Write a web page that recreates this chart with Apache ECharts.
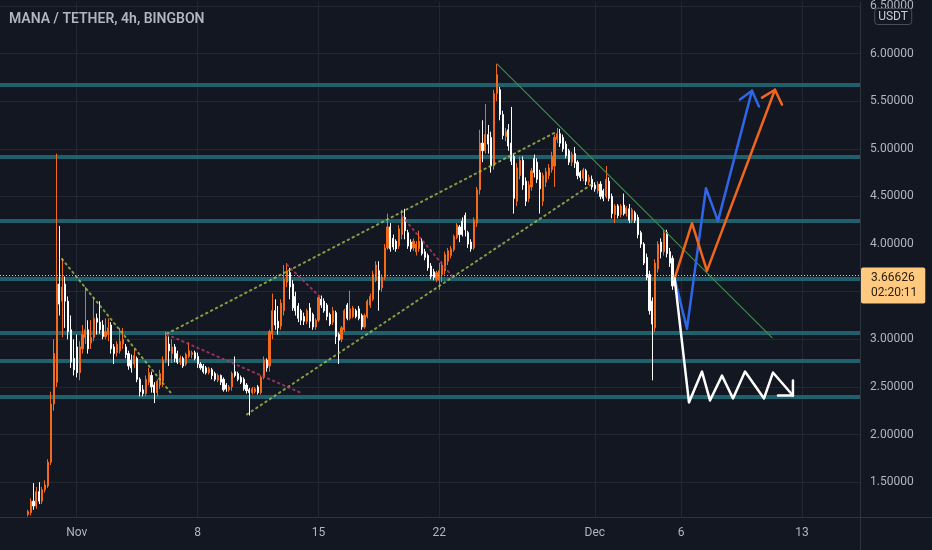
<!DOCTYPE html>
<html><head><meta charset="utf-8">
<script src="https://cdn.jsdelivr.net/npm/echarts@6/dist/echarts.min.js"></script>
<style>html,body{margin:0;padding:0;background:#131722}#c{width:932px;height:550px}</style>
</head><body><div id="c"></div>
<script>
// ---------- data ----------
const title = 'MANA / TETHER, 4h, BINGBON';
const currency = 'USDT';
const firstBar = '2021-10-29 04:00';   // time of first visible 4h candle
const barHours = 4;
// [open, close, low, high]
const ohlc = [
 [1.16,1.19,1.14,1.21],[1.18,1.30,1.15,1.33],[1.30,1.25,1.21,1.49],[1.25,1.40,1.22,1.45],[1.40,1.30,1.27,1.50],[1.30,1.42,1.27,1.45],
 [1.42,1.47,1.39,1.52],[1.46,1.71,1.44,1.74],[1.71,2.32,1.68,2.45],[2.32,2.85,2.25,3.00],[2.55,3.58,2.50,4.95],[3.58,3.37,3.25,4.19],
 [3.40,3.55,3.02,3.85],[3.58,3.40,3.12,3.66],[3.40,3.08,3.00,3.45],[3.10,2.76,2.70,3.25],[2.80,2.68,2.62,3.00],[2.92,2.65,2.60,3.05],
 [2.65,2.92,2.57,2.98],[2.90,3.05,2.85,3.15],[3.02,3.10,2.95,3.55],[3.10,2.90,2.85,3.20],[2.96,3.02,2.90,3.20],[3.02,3.22,2.98,3.44],
 [3.22,3.18,3.05,3.27],[3.18,3.10,3.06,3.40],[3.15,3.03,3.00,3.20],[3.03,3.08,3.00,3.22],[3.05,3.12,2.98,3.22],[3.15,2.90,2.85,3.18],
 [2.92,2.85,2.74,2.95],[2.86,2.95,2.82,2.98],[2.88,2.98,2.85,3.12],[2.95,3.00,2.90,3.12],[2.92,2.84,2.80,2.95],[2.85,2.72,2.68,2.88],
 [2.78,2.70,2.65,2.84],[2.74,2.83,2.70,2.90],[2.80,2.58,2.55,2.82],[2.58,2.45,2.40,2.60],[2.47,2.43,2.40,2.52],[2.43,2.58,2.40,2.62],
 [2.55,2.65,2.52,2.70],[2.62,2.50,2.44,2.66],[2.52,2.44,2.33,2.55],[2.44,2.56,2.40,2.58],[2.52,2.64,2.48,2.68],[2.56,2.78,2.50,2.82],
 [2.78,3.03,2.75,3.08],[2.95,2.88,2.72,3.03],[2.85,2.92,2.75,3.00],[2.92,2.80,2.76,2.95],[2.85,2.76,2.74,2.88],[2.76,2.80,2.73,2.83],
 [2.80,2.72,2.70,2.82],[2.74,2.84,2.72,2.86],[2.82,2.88,2.80,2.97],[2.84,2.86,2.80,2.88],[2.86,2.80,2.78,2.88],[2.82,2.74,2.70,2.86],
 [2.74,2.70,2.68,2.76],[2.72,2.66,2.64,2.74],[2.70,2.65,2.63,2.72],[2.65,2.69,2.63,2.71],[2.68,2.62,2.58,2.70],[2.64,2.58,2.56,2.66],
 [2.57,2.62,2.55,2.64],[2.62,2.55,2.52,2.63],[2.58,2.47,2.45,2.60],[2.52,2.48,2.45,2.54],[2.47,2.50,2.45,2.52],[2.50,2.64,2.46,2.66],
 [2.66,2.62,2.60,2.82],[2.64,2.58,2.56,2.66],[2.60,2.55,2.53,2.62],[2.58,2.48,2.46,2.60],[2.52,2.46,2.43,2.54],[2.47,2.44,2.20,2.49],
 [2.44,2.48,2.42,2.50],[2.45,2.48,2.43,2.50],[2.50,2.44,2.42,2.52],[2.44,2.60,2.42,2.62],[2.60,2.78,2.58,2.82],[2.78,2.70,2.66,2.80],
 [2.72,3.08,2.66,3.10],[3.06,3.30,3.00,3.48],[3.30,3.15,3.10,3.42],[3.19,3.12,3.05,3.35],[3.14,3.38,3.10,3.42],[3.30,3.63,3.25,3.78],
 [3.60,3.72,3.55,3.80],[3.70,3.55,3.42,3.75],[3.58,3.33,3.30,3.62],[3.45,3.30,3.25,3.50],[3.35,3.22,3.18,3.38],[3.30,3.20,3.15,3.32],
 [3.24,3.19,3.15,3.28],[3.19,3.30,3.16,3.32],[3.33,3.19,3.12,3.38],[3.26,3.13,3.10,3.28],[3.13,3.20,3.10,3.22],[3.20,3.44,3.18,3.46],
 [3.42,3.36,3.33,3.46],[3.40,3.30,3.28,3.43],[3.36,3.24,3.20,3.38],[3.26,3.16,3.14,3.28],[3.18,3.30,3.15,3.34],[3.28,3.03,2.95,3.30],
 [3.05,2.99,2.74,3.07],[3.00,3.12,2.97,3.14],[3.10,3.30,3.08,3.32],[3.36,3.22,3.20,3.38],[3.22,3.32,3.20,3.51],[3.24,3.33,3.22,3.35],
 [3.30,3.24,3.22,3.32],[3.32,3.22,3.20,3.35],[3.25,3.13,3.10,3.27],[3.13,3.25,3.11,3.27],[3.24,3.40,3.22,3.42],[3.36,3.45,3.33,3.48],
 [3.42,3.68,3.40,3.72],[3.62,3.78,3.60,3.82],[3.72,3.52,3.30,3.82],[3.54,3.65,3.50,3.68],[3.65,3.96,3.62,4.00],[3.96,4.18,3.94,4.32],
 [4.18,3.95,3.92,4.22],[4.06,3.97,3.94,4.10],[4.03,3.95,3.92,4.05],[3.98,4.16,3.95,4.20],[4.10,4.28,4.05,4.36],[4.28,4.14,4.05,4.37],
 [4.12,3.98,3.95,4.15],[4.02,3.95,3.92,4.05],[3.96,4.03,3.93,4.06],[3.92,4.00,3.88,4.03],[3.95,4.03,3.92,4.14],[4.03,3.90,3.88,4.06],
 [3.92,3.86,3.83,3.95],[3.88,3.75,3.72,3.90],[3.77,3.66,3.63,3.80],[3.71,3.65,3.62,3.74],[3.63,3.70,3.60,3.72],[3.62,3.72,3.52,3.80],
 [3.68,3.78,3.60,3.82],[3.72,3.89,3.68,3.92],[3.82,3.93,3.78,3.96],[3.88,3.95,3.85,3.98],[3.94,4.08,3.92,4.10],[4.07,4.20,4.05,4.22],
 [4.18,4.10,4.02,4.20],[4.24,4.10,4.08,4.28],[4.30,4.15,4.08,4.33],[4.12,4.00,3.96,4.14],[4.02,3.95,3.92,4.05],[3.96,4.25,3.94,4.28],
 [4.22,4.57,4.18,4.60],[4.57,5.06,4.52,5.20],[5.06,4.98,4.86,5.30],[4.98,5.15,4.95,5.47],[5.15,5.05,4.95,5.25],[5.12,4.82,4.75,5.18],
 [4.82,5.58,4.78,5.62],[5.58,5.78,5.50,5.89],[5.62,5.36,5.30,5.65],[5.36,5.14,5.10,5.40],[5.13,5.18,5.08,5.22],[5.20,5.03,4.98,5.26],
 [5.06,4.87,4.83,5.44],[4.92,4.48,4.32,4.95],[4.45,4.80,4.40,4.85],[4.72,4.88,4.68,4.92],[4.88,4.62,4.57,4.92],[4.66,4.45,4.40,4.70],
 [4.48,4.62,4.44,4.66],[4.60,4.77,4.56,4.80],[4.90,4.75,4.70,4.94],[4.86,4.68,4.64,4.90],[4.75,4.58,4.32,4.78],[4.45,4.72,4.40,4.75],
 [4.65,4.76,4.60,4.80],[4.72,4.80,4.68,4.84],[4.78,4.92,4.75,4.97],[4.82,5.12,4.60,5.15],[5.10,5.16,5.06,5.22],[5.16,5.06,5.02,5.21],
 [5.12,5.00,4.97,5.15],[5.05,4.93,4.90,5.08],[4.98,4.86,4.83,5.00],[4.86,4.94,4.82,4.97],[4.95,4.85,4.80,5.02],[4.86,4.72,4.68,4.88],
 [4.75,4.70,4.66,4.77],[4.69,4.78,4.66,4.80],[4.77,4.66,4.62,4.79],[4.65,4.70,4.62,4.73],[4.68,4.60,4.57,4.72],[4.62,4.58,4.55,4.65],
 [4.56,4.63,4.53,4.66],[4.63,4.50,4.47,4.66],[4.56,4.48,4.45,4.58],[4.50,4.68,4.48,4.82],[4.66,4.48,4.45,4.70],[4.50,4.32,4.27,4.53],
 [4.31,4.40,4.22,4.42],[4.40,4.30,4.27,4.42],[4.31,4.40,4.28,4.42],[4.41,4.32,4.30,4.53],[4.32,4.38,4.29,4.40],[4.37,4.25,4.22,4.42],
 [4.25,4.36,4.22,4.38],[4.33,4.25,4.22,4.35],[4.28,4.10,4.06,4.31],[4.12,4.00,3.96,4.14],[4.00,3.80,3.78,4.02],[3.86,3.65,3.62,3.90],
 [3.68,3.30,3.26,3.72],[3.40,3.16,2.57,3.44],[3.12,3.80,3.08,3.84],[3.74,4.00,3.70,4.03],[4.02,3.92,3.85,4.06],[3.92,4.12,3.88,4.16],
 [4.12,3.90,3.86,4.15],[3.92,3.80,3.76,3.96],[3.85,3.56,3.52,3.88],[3.55,3.66626,3.52,3.70]
];
const levels = [5.674, 4.920, 4.240, 3.644, 3.069, 2.776, 2.400];   // horizontal support/resistance
const lastPrice = 3.66626;
const countdown = '02:20:11';
const yGridValues = [1.5, 2, 2.5, 3, 3.5, 4, 4.5, 5, 5.5, 6, 6.5];
const yLabelValues = [1.5, 2, 2.5, 3, 4, 4.5, 5, 5.5, 6, 6.5];
const yRange = [1.134, 6.542];
const xRange = ['2021-10-27 13:24', '2021-12-16 08:36'];
const xTickDates = ['2021-11-01', '2021-11-08', '2021-11-15', '2021-11-22', '2021-12-01', '2021-12-06', '2021-12-13'];
const xTickText = ['Nov', '8', '15', '22', 'Dec', '6', '13'];
// drawings: [time, price]
const trendLine = [['2021-11-25 08:06', 5.893], ['2021-12-11 06:18', 3.017]];
const channelUpper = [['2021-11-06 05:30', 3.059], ['2021-11-28 19:30', 5.182]];
const channelLower = [['2021-11-10 20:42', 2.212], ['2021-11-30 20:06', 4.630]];
const leftFall = [['2021-10-31 03:36', 3.843], ['2021-11-06 13:48', 2.410]];
const pinkA = [['2021-11-06 05:30', 3.050], ['2021-11-13 22:18', 2.442]];
const pinkB = [['2021-11-13 04:18', 3.782], ['2021-11-15 04:54', 3.425]];
const pinkC = [['2021-11-19 20:06', 4.293], ['2021-11-22 17:36', 3.665]];
const bluePath = [['2021-12-05 15:00', 3.64], ['2021-12-06 08:06', 3.111], ['2021-12-07 10:34', 4.586], ['2021-12-08 03:12', 4.241], ['2021-12-10 02:30', 5.611]];
const blueHead = [['2021-12-09 09:48', 5.517], ['2021-12-10 02:30', 5.611], ['2021-12-10 12:12', 5.444]];
const orangePath = [['2021-12-05 15:00', 3.64], ['2021-12-06 15:06', 4.220], ['2021-12-07 11:54', 3.718], ['2021-12-11 10:24', 5.621]];
const orangeHead = [['2021-12-10 16:24', 5.538], ['2021-12-11 10:24', 5.621], ['2021-12-11 20:12', 5.464]];
const whitePath = [['2021-12-05 15:00', 3.64], ['2021-12-06 10:54', 2.337], ['2021-12-07 05:00', 2.661], ['2021-12-07 16:06', 2.358],
  ['2021-12-08 08:48', 2.619], ['2021-12-09 00:06', 2.379], ['2021-12-09 16:48', 2.661], ['2021-12-10 19:12', 2.379],
  ['2021-12-11 07:36', 2.651], ['2021-12-12 11:24', 2.410]];
const whiteHead = [['2021-12-11 14:36', 2.410], ['2021-12-12 11:24', 2.410], ['2021-12-12 11:24', 2.567]];

// ---------- helpers ----------
function ts(s) {
  const [d, t = '00:00'] = s.split(' ');
  const [Y, M, D] = d.split('-').map(Number);
  const [h, m] = t.split(':').map(Number);
  return Date.UTC(Y, M - 1, D, h, m);
}
const t0 = ts(firstBar);
const candles = ohlc.map((r, k) => [t0 + k * barHours * 3600e3, r[0], r[1], r[2], r[3]]);
const pts = arr => arr.map(p => [ts(p[0]), p[1]]);
const xTickTs = xTickDates.map(d => ts(d));

const UP = '#f26b1d', DOWN = '#ffffff', TEAL = '#1f6471', GRID = '#232733', TXT = '#b2b5be', SEP = '#2f333e';
const FONT = 'Roboto, "Open Sans", sans-serif';
const W = 932, H = 550, GRID_RIGHT = 72, GRID_BOTTOM = 33;

function drawing(name, data, color, width, type, z) {
  return { name, type: 'line', data: pts(data), symbol: 'none', silent: true, z: z || 4,
    lineStyle: { color, width, type: type || 'solid', cap: 'round', join: 'round' }, animation: false };
}

const chart = echarts.init(document.getElementById('c'), null, { renderer: 'canvas' });
chart.setOption({
  backgroundColor: '#131722',
  animation: false,
  title: [
    { text: title, left: 9, top: 12, padding: 0,
      textStyle: { color: TXT, fontSize: 14, fontWeight: 600, fontFamily: FONT } },
    { text: currency, right: 20, top: 8, padding: [3, 4, 2, 4], borderColor: '#4a4e59', borderWidth: 1, borderRadius: 3,
      backgroundColor: '#131722', textStyle: { color: '#c9ccd4', fontSize: 12, fontWeight: 'normal', fontFamily: FONT } }
  ],
  graphic: [
    { type: 'line', silent: true, z: 10, shape: { x1: W - GRID_RIGHT + 0.5, y1: H - GRID_BOTTOM, x2: W - GRID_RIGHT + 0.5, y2: H },
      style: { stroke: SEP, lineWidth: 1 } },
    { type: 'line', silent: true, z: 10, shape: { x1: W - GRID_RIGHT, y1: H - GRID_BOTTOM + 0.5, x2: W, y2: H - GRID_BOTTOM + 0.5 },
      style: { stroke: SEP, lineWidth: 1 } }
  ],
  grid: { left: 0, right: GRID_RIGHT, top: 0, bottom: GRID_BOTTOM, containLabel: false },
  xAxis: {
    type: 'value', min: ts(xRange[0]), max: ts(xRange[1]), scale: true,
    axisLine: { show: true, lineStyle: { color: SEP, width: 1 } },
    axisTick: { show: false },
    splitLine: { show: false },
    axisLabel: {
      customValues: xTickTs, margin: 10, color: TXT, fontSize: 12, fontFamily: FONT,
      formatter: v => { const i = xTickTs.indexOf(v); return i >= 0 ? xTickText[i] : ''; }
    }
  },
  yAxis: {
    type: 'value', position: 'right', min: yRange[0], max: yRange[1], splitNumber: 11,
    axisLine: { show: true, lineStyle: { color: SEP, width: 1 } },
    axisTick: { show: false },
    splitLine: { show: false },
    axisLabel: {
      customValues: yLabelValues, showMinLabel: true, showMaxLabel: true,
      margin: 10, color: TXT, fontSize: 12, fontFamily: FONT,
      formatter: v => yLabelValues.some(l => Math.abs(l - v) < 1e-6) ? v.toFixed(5) : ''
    }
  },
  series: [
    { name: 'grid', type: 'line', data: [], silent: true,
      markLine: { silent: true, symbol: 'none', z: 0, label: { show: false },
        lineStyle: { color: GRID, width: 1, type: 'solid' },
        data: yGridValues.map(v => ({ yAxis: v })).concat(xTickTs.map(t => ({ xAxis: t }))) } },
    { name: 'levels', type: 'line', data: [], silent: true,
      markLine: { silent: true, symbol: 'none', z: 1, label: { show: false },
        lineStyle: { color: TEAL, width: 4, type: 'solid', opacity: 0.95 },
        data: levels.map(v => ({ yAxis: v })) } },
    { name: 'MANA', type: 'candlestick', data: candles, z: 3, barWidth: 1.6,
      itemStyle: { color: UP, color0: DOWN, borderColor: UP, borderColor0: DOWN, borderWidth: 1 },
      markLine: { silent: true, symbol: 'none', z: 6,
        lineStyle: { color: '#9fdede', width: 1, type: [1, 2] },
        label: { show: true, position: 'end', distance: 1, offset: [0, 10],
          formatter: lastPrice.toFixed(5) + '\n' + countdown,
          backgroundColor: '#ffc980', color: '#2a2010', fontSize: 12, lineHeight: 15, fontFamily: FONT,
          padding: [3, 8, 3, 10], borderRadius: 2 },
        data: [{ yAxis: lastPrice }] } },
    drawing('upper channel', channelUpper, 'rgba(170,200,80,0.75)', 2, [1.5, 4]),
    drawing('lower channel', channelLower, 'rgba(170,200,80,0.75)', 2, [1.5, 4]),
    drawing('left fall', leftFall, 'rgba(170,200,80,0.75)', 2, [1.5, 4]),
    drawing('pink A', pinkA, 'rgba(190,60,110,0.75)', 2, [1.5, 4]),
    drawing('pink B', pinkB, 'rgba(190,60,110,0.75)', 2, [1.5, 4]),
    drawing('pink C', pinkC, 'rgba(190,60,110,0.75)', 2, [1.5, 4]),
    drawing('trend', trendLine, '#3f8a4a', 1.2),
    drawing('blue path', bluePath, '#2f66e8', 2.5),
    drawing('blue head', blueHead, '#2f66e8', 2.5),
    drawing('orange path', orangePath, '#f0661c', 2.5),
    drawing('orange head', orangeHead, '#f0661c', 2.5),
    drawing('white path', whitePath, '#ffffff', 2.5),
    drawing('white head', whiteHead, '#ffffff', 2.5)
  ]
});
</script>
</body></html>
